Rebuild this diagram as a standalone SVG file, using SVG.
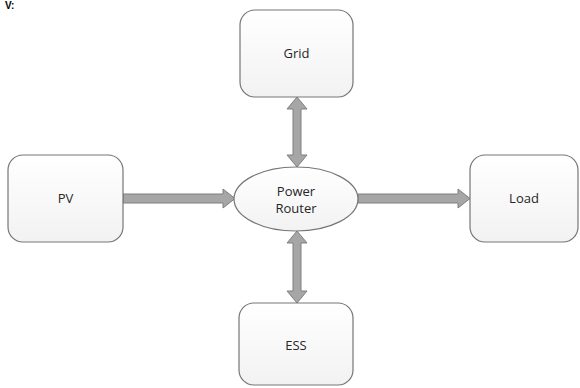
<svg xmlns="http://www.w3.org/2000/svg" width="580" height="388" viewBox="0 0 580 388">
<defs>
<linearGradient id="g" x1="0" y1="0" x2="0" y2="1">
<stop offset="0" stop-color="#ffffff"/>
<stop offset="1" stop-color="#f2f2f2"/>
</linearGradient>
<style>
.box{fill:url(#g);stroke:#767676;stroke-width:1.2}
.t{font-family:"Open Sans","Liberation Sans",sans-serif;font-size:13px;fill:#262626;text-anchor:middle}
.ar{fill:#a6a6a6;stroke:#7f7f7f;stroke-width:1}
</style>
</defs>
<rect width="580" height="388" fill="#ffffff"/>
<text x="5" y="9" style="font-family:'Liberation Sans',sans-serif;font-size:10px;font-weight:bold;fill:#000">V:</text>
<g id="connectors">
<path class="ar" d="M297,97 L307,109 L301,109 L301,155 L307,155 L297,167 L287,155 L293,155 L293,109 L287,109 Z"/>
<path class="ar" d="M297,231 L307,243 L301,243 L301,291 L307,291 L297,303 L287,291 L293,291 L293,243 L287,243 Z"/>
<path class="ar" d="M123,194 L223,194 L223,189 L235,198.5 L223,208 L223,203 L123,203 Z"/>
<path class="ar" d="M358,194 L458,194 L458,189 L470,198.5 L458,208 L458,203 L358,203 Z"/>
</g>
<g id="grid">
<rect class="box" x="240" y="10" width="113" height="87" rx="15"/>
<text class="t" x="296.5" y="58">Grid</text>
</g>
<g id="pv">
<rect class="box" x="8" y="155" width="115" height="87" rx="15"/>
<text class="t" x="65.5" y="203">PV</text>
</g>
<g id="load">
<rect class="box" x="470" y="155" width="108" height="87" rx="15"/>
<text class="t" x="524" y="203">Load</text>
</g>
<g id="ess">
<rect class="box" x="239" y="303" width="114" height="82" rx="15"/>
<text class="t" x="296" y="350">ESS</text>
</g>
<g id="router">
<ellipse class="box" cx="296" cy="199" rx="62" ry="32"/>
<text class="t" x="296" y="196">Power</text>
<text class="t" x="296" y="213">Router</text>
</g>
</svg>
